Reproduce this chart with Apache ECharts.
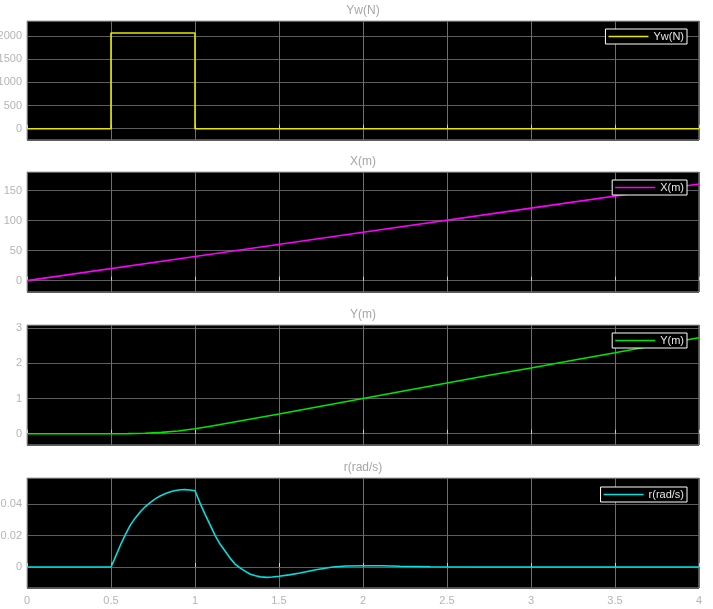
<!DOCTYPE html>
<html>
<head>
<meta charset="utf-8">
<script src="https://cdn.jsdelivr.net/npm/echarts@6/dist/echarts.min.js"></script>
<style>
  html, body { margin: 0; padding: 0; background: #fff; }
  #main { width: 713px; height: 609px; }
</style>
</head>
<body>
<div id="main"></div>
<script>
// 四个子图的数据（时间 s / 数值）
var ywTime = [0, 0.5, 0.5, 1.0, 1.0, 4.0];
var ywValue = [0, 0, 2065, 2065, 0, 0];

var xTime = [0, 1, 2, 3, 4];
var xValue = [0, 40.3, 80.5, 120.8, 161];

var yTime = [0, 0.5, 0.6, 0.7, 0.8, 0.9, 1.0, 1.1, 1.2, 1.3, 1.4, 1.5, 1.75, 2.0, 2.25, 2.5, 2.75, 3.0, 3.25, 3.5, 3.75, 4.0];
var yValue = [0, 0, 0.003, 0.014, 0.038, 0.08, 0.14, 0.22, 0.305, 0.39, 0.475, 0.56, 0.78, 1.0, 1.22, 1.44, 1.66, 1.87, 2.09, 2.3, 2.52, 2.73];

var rTime = [0, 0.5, 0.52, 0.557, 0.586, 0.616, 0.646, 0.676, 0.705, 0.735, 0.765, 0.795, 0.825, 0.854, 0.884, 0.914, 0.94, 0.97, 1.0,
             1.03, 1.06, 1.09, 1.12, 1.15, 1.18, 1.21, 1.238, 1.268, 1.3, 1.327, 1.36, 1.39, 1.427, 1.46, 1.5, 1.56, 1.625, 1.72, 1.82,
             1.9, 2.0, 2.12, 2.22, 2.4, 2.7, 4.0];
var rValue = [0, 0, 0.0049, 0.0142, 0.0208, 0.0269, 0.0315, 0.0354, 0.0386, 0.0413, 0.0436, 0.0455, 0.0469, 0.048, 0.0488, 0.0493, 0.0494, 0.0491, 0.0487,
              0.0408, 0.0336, 0.0269, 0.02, 0.0145, 0.01, 0.0055, 0.0019, -0.0006, -0.0028, -0.0045, -0.0056, -0.0063, -0.0066, -0.0064, -0.0059, -0.005, -0.0038, -0.0017, 0,
              0.0006, 0.0008, 0.0008, 0.0005, 0.0002, 0, 0];

var xTicks = [0, 0.5, 1, 1.5, 2, 2.5, 3, 3.5, 4];

function zip(t, v) {
    return t.map(function (x, i) { return [x, v[i]]; });
}

var panels = [
    { name: 'Yw(N)', color: '#e6e600', data: zip(ywTime, ywValue), top: 21, height: 119, min: -244, max: 2324, split: 5 },
    { name: 'X(m)', color: '#ff00ff', data: zip(xTime, xValue), top: 172, height: 120, min: -19, max: 181, split: 4 },
    { name: 'Y(m)', color: '#00e600', data: zip(yTime, yValue), top: 325, height: 120, min: -0.32, max: 3.09, split: 3 },
    { name: 'r(rad/s)', color: '#00e0e0', data: zip(rTime, rValue), top: 478, height: 110, min: -0.0134, max: 0.0568, split: 3 }
];

var font = 'Liberation Sans, Arial, sans-serif';
var myChart = echarts.init(document.getElementById('main'));

var option = {
    backgroundColor: '#fff',
    animation: false,
    title: [],
    legend: [],
    grid: [],
    xAxis: [],
    yAxis: [],
    series: []
};

panels.forEach(function (p, i) {
    option.title.push({
        text: p.name,
        left: 363, textAlign: 'center',
        top: p.top - 16,
        padding: 0,
        textStyle: { color: '#a6a6a6', fontSize: 12, fontWeight: 'normal', fontFamily: font }
    });
    option.grid.push({
        left: 27, right: 14, top: p.top, height: p.height,
        containLabel: false, outerBoundsMode: 'none',
        show: true, backgroundColor: '#000', borderColor: '#a0a0a0', borderWidth: 1
    });
    option.xAxis.push({
        type: 'value', gridIndex: i, min: 0, max: 4, interval: 0.5,
        axisLine: { show: false },
        axisTick: { show: true, inside: true, length: 4, lineStyle: { color: '#cfcfcf' } },
        splitLine: { show: true, lineStyle: { color: '#6e6e6e', width: 1 } },
        axisLabel: {
            show: i === 3, margin: 7, color: '#b4b4b4', fontSize: 11, fontFamily: font,
            formatter: function (v) { return xTicks.indexOf(v) >= 0 ? String(v) : ''; }
        }
    });
    option.yAxis.push({
        type: 'value', gridIndex: i, min: p.min, max: p.max, splitNumber: p.split,
        axisLine: { show: false },
        axisTick: { show: false },
        splitLine: { show: true, lineStyle: { color: '#5e5e5e', width: 1 } },
        axisLabel: {
            margin: 5, color: '#b4b4b4', fontSize: 11, fontFamily: font,
            showMinLabel: false, showMaxLabel: false,
            formatter: function (v) { return String(v); }
        }
    });
    option.legend.push({
        data: [p.name],
        right: 26, top: p.top + (i === 3 ? 9 : 8),
        orient: 'horizontal',
        icon: 'path://M0,0L40,0L40,1.6L0,1.6Z',
        itemWidth: 40, itemHeight: 12, itemGap: 0,
        padding: [2, 3, 2, 3],
        backgroundColor: '#000', borderColor: '#ffffff', borderWidth: 1, borderRadius: 0,
        textStyle: { color: '#e6e6e6', fontSize: 11, fontFamily: font }
    });
    option.series.push({
        name: p.name, type: 'line', xAxisIndex: i, yAxisIndex: i,
        data: p.data, symbol: 'none', smooth: false,
        lineStyle: { color: p.color, width: 1.6 },
        itemStyle: { color: p.color }
    });
});

myChart.setOption(option);

window.addEventListener('resize', function () {
    myChart.resize();
});
</script>
</body>
</html>
